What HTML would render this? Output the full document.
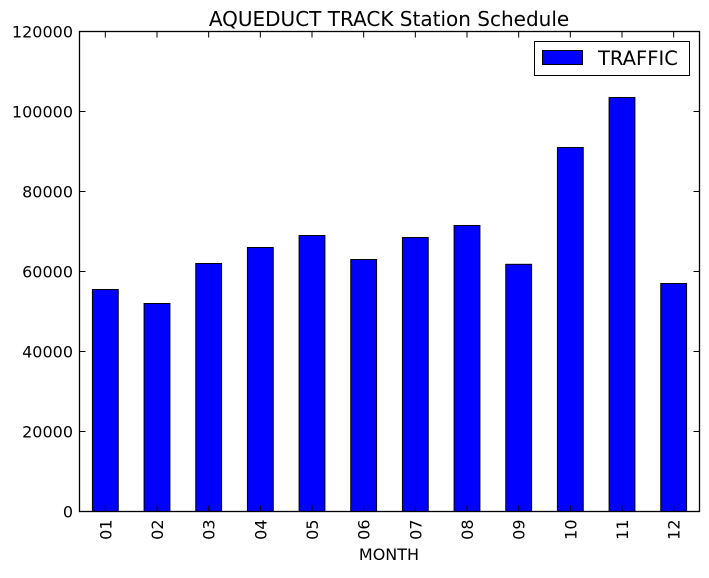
<!DOCTYPE html>
<html><head><meta charset="utf-8"><style>
body{margin:0;background:#fff;}
svg text{font-family:"DejaVu Sans","Liberation Sans",sans-serif;fill:#000;}
</style></head><body>
<svg id="chart" width="709" height="573" xmlns="http://www.w3.org/2000/svg">
<rect width="709" height="573" fill="#fff"/>
<text x="389" y="26" text-anchor="middle" font-size="20">AQUEDUCT TRACK Station Schedule</text>
<g id="bars"></g>
<g id="axes"></g>
<rect x="79.5" y="31.5" width="620" height="480" fill="none" stroke="#000" stroke-width="1.3"/>
<text x="389" y="560" text-anchor="middle" font-size="16">MONTH</text>
<g>
<rect x="534.5" y="41.5" width="155" height="34" fill="#fff" stroke="#000"/>
<rect x="542.5" y="50.5" width="40" height="14" fill="#0000ff" stroke="#000"/>
<text x="598" y="65" font-size="19.5">TRAFFIC</text>
</g>
</svg>
<script>
const categories=["01","02","03","04","05","06","07","08","09","10","11","12"];
const traffic=[55500,52000,62000,66000,69000,63000,68500,71500,61800,91000,103500,57000];
const yTicks=[0,20000,40000,60000,80000,100000,120000];
const L=79.5,R=699.5,T=31.5,B=511.5,yMax=120000;
const NS="http://www.w3.org/2000/svg";
const y=v=>B-(v/yMax)*(B-T);
const step=(R-L)/categories.length;
const xc=i=>L+step*(i+0.5);
const bars=document.getElementById('bars'),axes=document.getElementById('axes');
function mk(tag,attrs,parent){const e=document.createElementNS(NS,tag);for(const k in attrs)e.setAttribute(k,attrs[k]);parent.appendChild(e);return e;}
categories.forEach((c,i)=>{
  const w=step*0.5;
  const r=mk('rect',{x:xc(i)-w/2,y:y(traffic[i]),width:w,height:B-y(traffic[i]),fill:'#0000ff',stroke:'#000','stroke-width':1},bars);
  
  
  const t=mk('text',{x:0,y:0,'font-size':16,'text-anchor':'end',transform:`translate(${xc(i)+6},${B+8}) rotate(-90)`},axes);
  t.textContent=c;
  
  
  mk('line',{x1:xc(i),x2:xc(i),y1:B,y2:B-6,stroke:'#000'},axes);
  mk('line',{x1:xc(i),x2:xc(i),y1:T,y2:T+6,stroke:'#000'},axes);
});
yTicks.forEach(v=>{
  const t=mk('text',{x:73,y:y(v)+6,'font-size':16,'text-anchor':'end'},axes);
  t.textContent=v;
  
  
  mk('line',{x1:L,x2:L+6,y1:y(v),y2:y(v),stroke:'#000'},axes);
  mk('line',{x1:R,x2:R-6,y1:y(v),y2:y(v),stroke:'#000'},axes);
});
</script>
</body></html>
